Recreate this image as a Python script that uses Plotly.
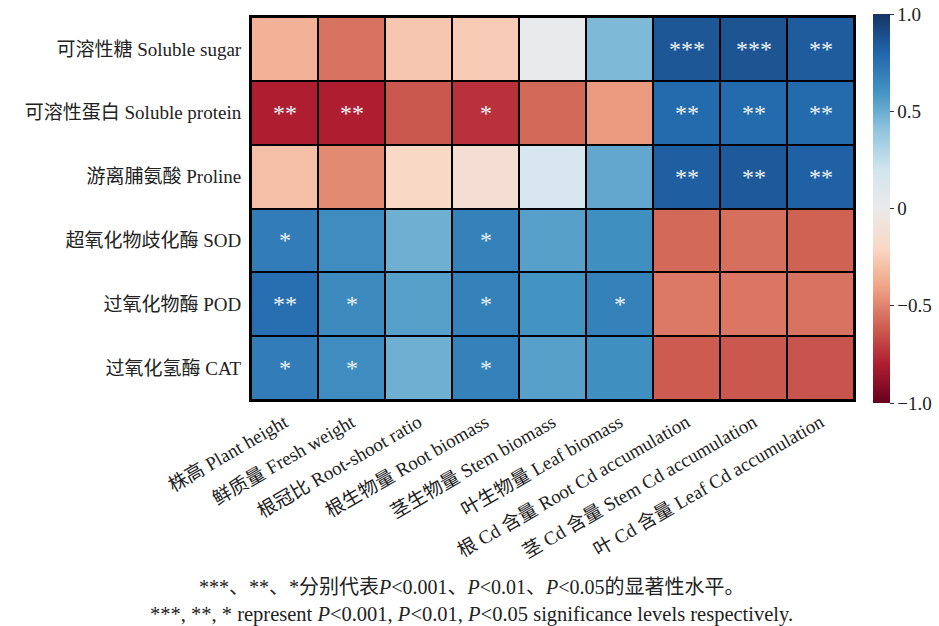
import plotly.graph_objects as go

rows = ["可溶性糖 Soluble sugar", "可溶性蛋白 Soluble protein", "游离脯氨酸 Proline",
        "超氧化物歧化酶 SOD", "过氧化物酶 POD", "过氧化氢酶 CAT"]
cols = ["株高 Plant height", "鲜质量 Fresh weight", "根冠比 Root-shoot ratio",
        "根生物量 Root biomass", "茎生物量 Stem biomass", "叶生物量 Leaf biomass",
        "根 Cd 含量 Root Cd accumulation", "茎 Cd 含量 Stem Cd accumulation",
        "叶 Cd 含量 Leaf Cd accumulation"]

values = [
    [-0.35, -0.55, -0.27, -0.25, 0.02, 0.45, 0.86, 0.87, 0.84],
    [-0.80, -0.80, -0.63, -0.74, -0.58, -0.43, 0.78, 0.78, 0.78],
    [-0.30, -0.48, -0.20, -0.13, 0.15, 0.52, 0.83, 0.85, 0.82],
    [0.70, 0.63, 0.49, 0.68, 0.55, 0.62, -0.58, -0.56, -0.60],
    [0.76, 0.64, 0.55, 0.68, 0.60, 0.68, -0.53, -0.54, -0.55],
    [0.70, 0.63, 0.49, 0.68, 0.55, 0.62, -0.62, -0.63, -0.64],
]

signif = [
    ["", "", "", "", "", "", "***", "***", "**"],
    ["**", "**", "", "*", "", "", "**", "**", "**"],
    ["", "", "", "", "", "", "**", "**", "**"],
    ["*", "", "", "*", "", "", "", "", ""],
    ["**", "*", "", "*", "", "*", "", "", ""],
    ["*", "*", "", "*", "", "", "", "", ""],
]

cb_vals = [1.0, 0.5, 0, -0.5, -1.0]
cb_text = ["1.0", "0.5", "0", "−0.5", "−1.0"]

rdbu = ["rgb(103,0,31)", "rgb(175,30,48)", "rgb(208,98,84)", "rgb(240,165,135)",
        "rgb(250,216,198)", "rgb(234,234,234)", "rgb(209,229,240)", "rgb(146,197,222)",
        "rgb(67,147,195)", "rgb(33,102,172)", "rgb(22,52,100)"]
cscale = [[i / 10, c] for i, c in enumerate(rdbu)]

FONT = "Liberation Serif, Noto Sans CJK SC, serif"

fig = go.Figure(go.Heatmap(
    z=values, x=cols, y=rows, text=signif, texttemplate="%{text}",
    textfont=dict(color="#eef2f8", size=24, family=FONT),
    colorscale=cscale, zmin=-1, zmax=1, xgap=2, ygap=2,
    hoverinfo="skip",
    colorbar=dict(
        x=873 / 939, xanchor="left", xref="container", xpad=0, ypad=0,
        y=0.5, yanchor="middle",
        len=1.016, lenmode="fraction", thickness=17, outlinewidth=0,
        tickvals=cb_vals, ticktext=cb_text, ticks="outside", ticklen=4,
        tickcolor="#333", tickfont=dict(size=19, family=FONT, color="#222"),
    ),
))

fig.update_layout(
    width=939, height=626,
    margin=dict(l=251, r=85, t=17, b=226, autoexpand=False),
    plot_bgcolor="black", paper_bgcolor="white",
    font=dict(family=FONT, color="#222"),
    xaxis=dict(tickangle=-30, tickfont=dict(size=19, family=FONT), ticks="",
               showline=True, linecolor="black", linewidth=2, mirror=True,
               showgrid=False, zeroline=False, ticklabelstandoff=2),
    yaxis=dict(autorange="reversed", tickfont=dict(size=19, family=FONT), ticks="",
               showline=True, linecolor="black", linewidth=2, mirror=True,
               showgrid=False, zeroline=False, ticklabelstandoff=4),
    annotations=[
        dict(text="***、**、*分别代表<i>P</i><0.001、<i>P</i><0.01、<i>P</i><0.05的显著性水平。",
             xref="paper", yref="paper", x=0.3665, y=-0.487, showarrow=False,
             xanchor="center", yanchor="middle", font=dict(size=20, family=FONT, color="#222")),
        dict(text="***, **, * represent <i>P</i><0.001, <i>P</i><0.01, <i>P</i><0.05 significance levels respectively.",
             xref="paper", yref="paper", x=0.3665, y=-0.56, showarrow=False,
             xanchor="center", yanchor="middle", font=dict(size=20.5, family=FONT, color="#222")),
    ],
)

fig.write_html("out.html")
